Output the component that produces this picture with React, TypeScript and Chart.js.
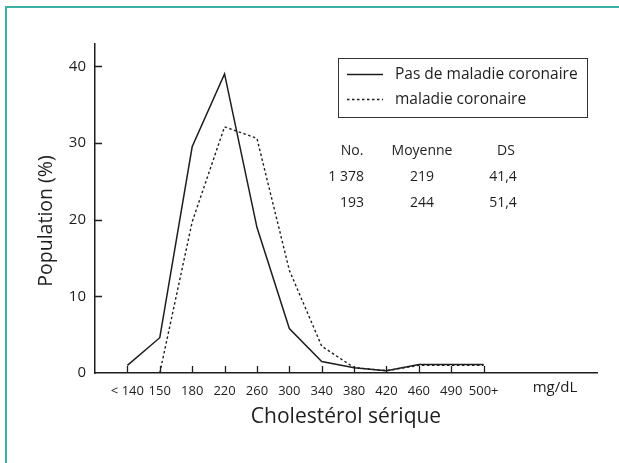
import React, { useEffect, useRef } from 'react';
import { Chart, registerables } from 'chart.js';

Chart.register(...registerables);

const categories = ['< 140', '150', '180', '220', '260', '300', '340', '380', '420', '460', '490', '500+'];
const noCoronary = [1.0, 4.6, 29.5, 39.0, 19.0, 5.8, 1.5, 0.7, 0.3, 1.1, 1.1, 1.1];
const coronary = [null, 0, 19.7, 32.1, 30.6, 13.4, 3.5, 0.7, 0.3, 1.0, 1.0, 1.0];
const yTicks = [0, 10, 20, 30, 40];
const seriesLabels = ['Pas de maladie coronaire', 'maladie coronaire'];
const tableHeader = ['No.', 'Moyenne', 'DS'];
const tableRows = [
  ['1 378', '219', '41,4'],
  ['193', '244', '51,4'],
];
const xTitle = 'Cholestérol sérique';
const yTitle = 'Population (%)';
const unitLabel = 'mg/dL';

const FONT = "'Open Sans', 'DejaVu Sans', sans-serif";
const INK = '#1e1e1e';
const FRAME = '#3cb0a4';

const overlay = {
  id: 'overlay',
  beforeDraw(chart: any) {
    const ctx = chart.ctx;
    ctx.save();
    ctx.fillStyle = '#ffffff';
    ctx.fillRect(0, 0, chart.width, chart.height);
    ctx.strokeStyle = FRAME;
    ctx.lineWidth = 2;
    ctx.beginPath();
    ctx.moveTo(6, chart.height);
    ctx.lineTo(6, 7);
    ctx.lineTo(chart.width, 7);
    ctx.stroke();
    ctx.restore();
  },
  afterDraw(chart: any) {
    const ctx = chart.ctx;
    const xs = chart.scales.x;
    const ys = chart.scales.y;
    const area = chart.chartArea;
    ctx.save();
    // inward tick marks
    ctx.strokeStyle = INK;
    ctx.lineWidth = 1.3;
    ctx.beginPath();
    categories.forEach((_, i) => {
      const px = Math.round(xs.getPixelForValue(i)) + 0.5;
      ctx.moveTo(px, area.bottom);
      ctx.lineTo(px, area.bottom - 7);
    });
    yTicks.forEach((v) => {
      if (v === 0) return;
      const py = Math.round(ys.getPixelForValue(v)) + 0.5;
      ctx.moveTo(area.left, py);
      ctx.lineTo(area.left + 7, py);
    });
    ctx.stroke();

    // y title
    ctx.fillStyle = INK;
    ctx.font = `19.5px ${FONT}`;
    ctx.textAlign = 'center';
    ctx.textBaseline = 'middle';
    ctx.save();
    ctx.translate(46, 221);
    ctx.rotate(-Math.PI / 2);
    ctx.fillText(yTitle, 0, 0);
    ctx.restore();

    // unit
    ctx.font = `15px ${FONT}`;
    ctx.fillText(unitLabel, area.right - 42, 388);

    // legend box
    ctx.strokeStyle = '#333333';
    ctx.lineWidth = 1;
    ctx.strokeRect(338.5, 58.5, 249, 59);
    ctx.lineWidth = 1.5;
    ctx.strokeStyle = INK;
    ctx.beginPath();
    ctx.moveTo(347, 74.5);
    ctx.lineTo(383, 74.5);
    ctx.stroke();
    ctx.setLineDash([2.5, 2.5]);
    ctx.beginPath();
    ctx.moveTo(347, 99.5);
    ctx.lineTo(383, 99.5);
    ctx.stroke();
    ctx.setLineDash([]);
    ctx.textAlign = 'left';
    ctx.font = `15.5px ${FONT}`;
    ctx.fillText(seriesLabels[0], 395, 75);
    ctx.fillText(seriesLabels[1], 395, 100);

    // table
    ctx.font = `14px ${FONT}`;
    const colX = [352, 422, 506];
    const rowY = [151, 177, 203];
    ctx.textAlign = 'center';
    tableHeader.forEach((t, c) => ctx.fillText(t, colX[c], rowY[0]));
    tableRows.forEach((row, r) => {
      row.forEach((t, c) => {
        if (c === 0) {
          ctx.textAlign = 'right';
          ctx.fillText(t, 364, rowY[r + 1]);
          ctx.textAlign = 'center';
        } else {
          ctx.fillText(t, colX[c] - (c === 2 ? 3 : 0), rowY[r + 1]);
        }
      });
    });
    ctx.restore();
  },
};

export default function App() {
  const ref = useRef<HTMLCanvasElement | null>(null);
  useEffect(() => {
    if (!ref.current) return;
    Chart.defaults.font.family = FONT;
    Chart.defaults.color = INK;
    const chart = new Chart(ref.current, {
      type: 'line',
      data: {
        datasets: [
          {
            label: seriesLabels[0],
            data: noCoronary.map((v, i) => ({ x: i, y: v })),
            borderColor: INK,
            borderWidth: 1.5,
            pointRadius: 0,
            tension: 0,
            fill: false,
          },
          {
            label: seriesLabels[1],
            data: coronary.map((v, i) => ({ x: i, y: v as any })),
            borderColor: INK,
            borderWidth: 1.4,
            borderDash: [2.5, 2.5],
            pointRadius: 0,
            tension: 0,
            fill: false,
          },
        ],
      },
      options: {
        animation: false,
        responsive: false,
        events: [],
        layout: { padding: { top: 44, right: 22, left: 0, bottom: 0 } },
        plugins: { legend: { display: false }, tooltip: { enabled: false } },
        scales: {
          x: {
            type: 'linear',
            min: -1,
            max: 14.5,
            grid: { display: false, drawTicks: false },
            border: { display: true, color: INK, width: 1.5 },
            afterBuildTicks: (s: any) => {
              s.ticks = categories.map((_, i) => ({ value: i }));
            },
            afterFit: (s: any) => {
              s.height = 90;
            },
            ticks: {
              padding: 10,
              font: { size: 13 },
              color: INK,
              maxRotation: 0,
              autoSkip: false,
              callback: (v: any) => categories[v] ?? '',
            },
            title: {
              display: true,
              text: xTitle,
              font: { size: 21 },
              color: INK,
              padding: { top: 0, bottom: 33 },
            },
          },
          y: {
            type: 'linear',
            min: 0,
            max: 42.9,
            grid: { display: false, drawTicks: false },
            border: { display: true, color: INK, width: 1.5 },
            afterBuildTicks: (s: any) => {
              s.ticks = yTicks.map((v) => ({ value: v }));
            },
            afterFit: (s: any) => {
              s.width = 95;
            },
            ticks: {
              padding: 9,
              font: { size: 15 },
              color: INK,
            },
          },
        },
      },
      plugins: [overlay],
    });
    return () => chart.destroy();
  }, []);
  return (
    <div style={{ position: 'absolute', left: 0, top: 0, width: 619, height: 463 }}>
      <canvas ref={ref} width={619} height={463} />
    </div>
  );
}
